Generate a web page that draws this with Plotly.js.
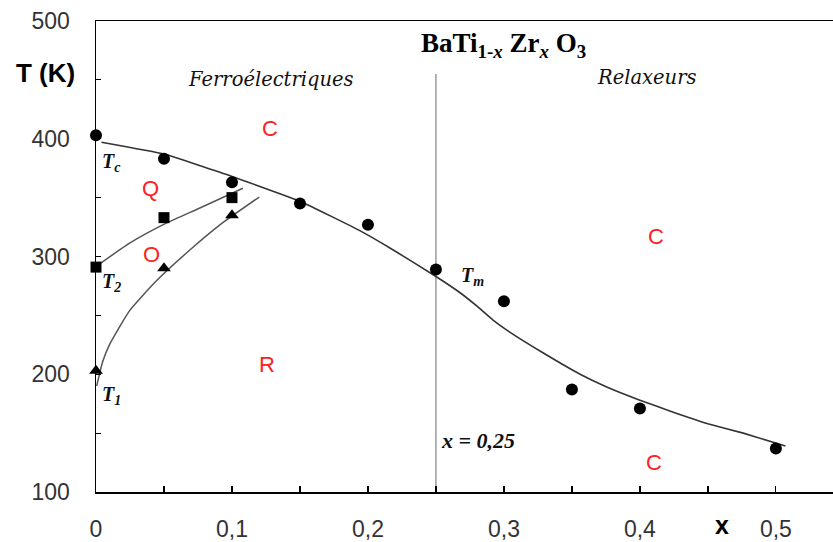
<!DOCTYPE html>
<html>
<head>
<meta charset="utf-8">
<script src="https://cdn.plot.ly/plotly-3.0.1.min.js"></script>
<style>html,body{margin:0;padding:0;background:#fff}#chart{width:833px;height:542px}</style>
</head>
<body>
<div id="chart"></div>
<script>
// Measured points
var tcX = [0, 0.05, 0.1, 0.15, 0.2, 0.25, 0.3, 0.35, 0.4, 0.5];
var tcY = [403, 383, 363, 345, 327, 289, 262, 187, 171, 137];
var t2X = [0, 0.05, 0.1];
var t2Y = [291, 333, 350];
var t1X = [0, 0.05, 0.1];
var t1Y = [203, 290, 335];

// Fitted curves
var fitTcX = [0.004, 0.05, 0.1, 0.15, 0.194, 0.218, 0.25, 0.268, 0.28, 0.292, 0.304, 0.329, 0.356, 0.376, 0.4, 0.424, 0.45, 0.476, 0.507];
var fitTcY = [397, 387, 368, 347, 322, 306, 283, 269, 258, 246, 236, 218, 200, 189, 178, 168, 158, 150, 139];
var fitT2X = [0.003, 0.025, 0.052, 0.076, 0.108];
var fitT2Y = [294, 311.5, 328.5, 341, 358];
var fitT1X = [0.0005, 0.005, 0.0103, 0.025, 0.045, 0.069, 0.093, 0.12];
var fitT1Y = [190, 211, 226, 254.5, 280, 305.5, 328.5, 350.5];

var boundaryX = [0.25, 0.25];
var boundaryY = [100, 455];

var xTicks = [0, 0.1, 0.2, 0.3, 0.4, 0.5];
var xTickText = ["0", "0,1", "0,2", "0,3", "0,4", "0,5"];
var xMinor = [0.05, 0.15, 0.25, 0.35, 0.45];
var yTicks = [100, 200, 300, 400, 500];
var yTickText = ["100", "200", "300", "400", "500"];
var yMinor = [150, 250, 350, 450];

var traces = [
  {x: boundaryX, y: boundaryY, mode: 'lines', line: {color: '#8a8a8a', width: 1.3}, hoverinfo: 'skip'},
  {x: fitTcX, y: fitTcY, mode: 'lines', line: {color: '#333333', width: 1.6, shape: 'spline', smoothing: 0.3}},
  {x: fitT2X, y: fitT2Y, mode: 'lines', line: {color: '#555555', width: 1.5, shape: 'spline', smoothing: 0.5}},
  {x: fitT1X, y: fitT1Y, mode: 'lines', line: {color: '#555555', width: 1.5, shape: 'spline', smoothing: 0.5}},
  {x: tcX, y: tcY, mode: 'markers', marker: {symbol: 'circle', size: 12, color: '#000'}, cliponaxis: false},
  {x: t2X, y: t2Y, mode: 'markers', marker: {symbol: 'square', size: 11, color: '#000'}, cliponaxis: false},
  {x: t1X, y: t1Y, mode: 'markers', marker: {symbol: 'triangle-up', size: 12, color: '#000'}, cliponaxis: false}
];

var serifI = {family: 'DejaVu Serif', size: 19.5, color: '#111', style: 'italic'};
var red = {family: 'Liberation Sans, Arial', size: 22, color: '#ff2020'};
var tlab = {family: 'Liberation Serif', size: 20, color: '#111', weight: 'bold', style: 'italic'};

function ann(x, y, text, font, xanchor) {
  return {x: x, y: y, xref: 'x', yref: 'y', text: text, showarrow: false, font: font, xanchor: xanchor || 'center', yanchor: 'middle'};
}

var annotations = [
  ann(0.129, 450, 'Ferroélectriques', serifI),
  ann(0.405, 452, 'Relaxeurs', serifI),
  {x: 0.300, y: 480, xref: 'x', yref: 'y', text: 'BaTi<sub>1-<i>x</i></sub> Zr<sub><i>x</i></sub> O<sub>3</sub>', showarrow: false,
   font: {family: 'Liberation Serif', size: 27, color: '#000', weight: 'bold'}, xanchor: 'center', yanchor: 'middle'},
  ann(0.128, 409, 'C', red),
  ann(0.412, 317, 'C', red),
  ann(0.410, 125, 'C', red),
  ann(0.040, 358, 'Q', red),
  ann(0.041, 302, 'O', red),
  ann(0.126, 208, 'R', red),
  ann(0.003, 380, 'T<sub><i>c</i></sub>', tlab, 'left'),
  ann(0.003, 278, 'T<sub>2</sub>', tlab, 'left'),
  ann(0.003, 182, 'T<sub>1</sub>', tlab, 'left'),
  ann(0.267, 283, 'T<sub><i>m</i></sub>', tlab, 'left'),
  ann(0.252, 144, '<b><i>x = 0,25</i></b>', {family: 'Liberation Serif', size: 22, color: '#111', style: 'italic'}, 'left'),
  {xref: 'paper', yref: 'paper', x: -0.068, y: 0.889, text: '<b>T (K)</b>', showarrow: false,
   font: {family: 'Liberation Sans, Arial', size: 26, color: '#000'}, xanchor: 'center', yanchor: 'middle'},
  {xref: 'paper', yref: 'paper', x: 0.849, y: -0.070, text: '<b>x</b>', showarrow: false,
   font: {family: 'Liberation Sans, Arial', size: 25, color: '#000'}, xanchor: 'center', yanchor: 'middle'}
];

var layout = {
  width: 833, height: 542,
  margin: {l: 96, r: 0, t: 21, b: 50, pad: 0},
  paper_bgcolor: '#fff', plot_bgcolor: '#fff',
  showlegend: false,
  xaxis: {
    range: [0, 0.542], showgrid: false, zeroline: false,
    showline: true, linecolor: '#000', linewidth: 1.5, mirror: true,
    tickmode: 'array', tickvals: xTicks, ticktext: xTickText, ticks: 'inside', ticklen: 6, tickcolor: '#000', tickwidth: 1.2,
    minor: {tickmode: 'array', tickvals: xMinor, ticks: 'inside', ticklen: 6, tickcolor: '#000', tickwidth: 1.2, showgrid: false},
    tickfont: {family: 'Liberation Sans, Arial', size: 23, color: '#333'},
    ticklabelstandoff: 16
  },
  yaxis: {
    range: [100, 500], showgrid: false, zeroline: false,
    showline: true, linecolor: '#000', linewidth: 1.5, mirror: false,
    tickmode: 'array', tickvals: yTicks, ticktext: yTickText, ticks: 'inside', ticklen: 5, tickcolor: '#000', tickwidth: 1.2,
    minor: {tickmode: 'array', tickvals: yMinor, ticks: 'inside', ticklen: 5, tickcolor: '#000', tickwidth: 1.2, showgrid: false},
    tickfont: {family: 'Liberation Sans, Arial', size: 23, color: '#333'},
    ticklabelstandoff: 20
  },
  annotations: annotations
};

Plotly.newPlot('chart', traces, layout, {displayModeBar: false, staticPlot: true});
</script>
</body>
</html>
